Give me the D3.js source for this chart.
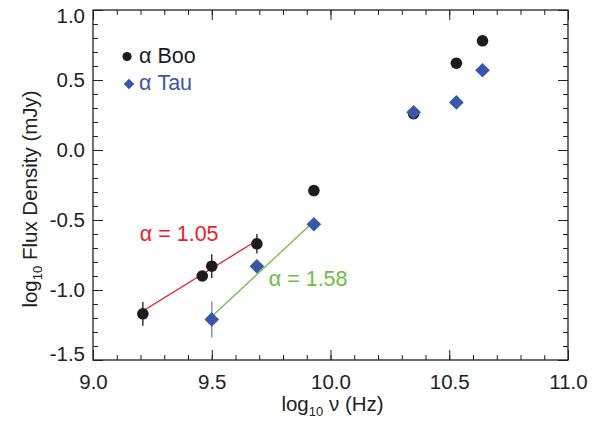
<!DOCTYPE html>
<html><head><meta charset="utf-8">
<script src="https://cdn.jsdelivr.net/npm/d3@7"></script>
<style>
html,body{margin:0;padding:0;background:#fff;}
svg{display:block;font-family:"Liberation Sans",Arial,Helvetica,sans-serif;}
</style></head>
<body>
<svg id="chart" width="611" height="422"></svg>
<script>
// ---- data ----
const booFreq = [9.21, 9.46, 9.50, 9.69, 9.93, 10.35, 10.53, 10.64];
const booFlux = [-1.17, -0.90, -0.83, -0.67, -0.29, 0.26, 0.62, 0.78];
const booErr  = [0.085, 0, 0.085, 0.07, 0, 0, 0, 0];
const tauFreq = [9.50, 9.69, 9.93, 10.35, 10.53, 10.64];
const tauFlux = [-1.21, -0.83, -0.53, 0.27, 0.34, 0.57];
const tauErr  = [0.13, 0, 0, 0, 0, 0];
const fitBooX = [9.21, 9.68];
const fitBooY = [-1.15, -0.657];
const fitTauX = [9.50, 9.915];
const fitTauY = [-1.19, -0.534];
const fitLabels = ["α = 1.05", "α = 1.58"];
const fitLabelPos = [[9.197, -0.65], [9.74, -0.97]];
const xTicks = [9.0, 9.5, 10.0, 10.5, 11.0];
const yTicks = [1.0, 0.5, 0.0, -0.5, -1.0, -1.5];
const legendNames = ["α Boo", "α Tau"];

// ---- layout ----
const svg = d3.select("#chart");
const L = 93, R = 568, T = 10, B = 360;
const x = d3.scaleLinear().domain([9.0, 11.0]).range([L, R]);
const y = d3.scaleLinear().domain([-1.5, 1.0]).range([B, T]);
const axisCol = "#222";
const cBlack = "#1c1c1c", cBlue = "#3a56a8", cBlueErr = "#8196cc", cRed = "#ec1c24", cGreen = "#6cbd45";

const minorX = d3.range(90, 111).map(v => v / 10);
const minorY = d3.range(-15, 11).map(v => v / 10);

function styleAxis(g) {
  g.select(".domain").remove();
  g.selectAll(".tick line").attr("stroke", axisCol).attr("stroke-width", 1);
}
// major ticks, labelled
svg.append("g").attr("transform", `translate(0,${B})`)
  .call(d3.axisBottom(x).tickValues(xTicks).tickSize(-10).tickPadding(14).tickFormat(d3.format(".1f")))
  .call(styleAxis)
  .call(g => g.selectAll("text").attr("font-size", 20.5).attr("fill", "#222").attr("font-family", "Liberation Sans, Arial, sans-serif"));
svg.append("g").attr("transform", `translate(0,${B})`)
  .call(d3.axisBottom(x).tickValues(minorX).tickSize(-5).tickFormat(""))
  .call(styleAxis);
svg.append("g").attr("transform", `translate(0,${T})`)
  .call(d3.axisTop(x).tickValues(xTicks).tickSize(-10).tickFormat(""))
  .call(styleAxis);
svg.append("g").attr("transform", `translate(0,${T})`)
  .call(d3.axisTop(x).tickValues(minorX).tickSize(-5).tickFormat(""))
  .call(styleAxis);
svg.append("g").attr("transform", `translate(${L},0)`)
  .call(d3.axisLeft(y).tickValues(yTicks).tickSize(-10).tickPadding(8).tickFormat(d => d3.format(".1f")(d).replace("−", "-")))
  .call(styleAxis)
  .call(g => g.selectAll("text").attr("font-size", 20.5).attr("fill", "#222").attr("font-family", "Liberation Sans, Arial, sans-serif"))
  .call(g => g.selectAll(".tick").filter(d => d === 1.0).select("text").attr("dy", "0.62em"))
  .call(g => g.selectAll(".tick").filter(d => d === -1.5).select("text").attr("dy", "0.0em"));
svg.append("g").attr("transform", `translate(${L},0)`)
  .call(d3.axisLeft(y).tickValues(minorY).tickSize(-5).tickFormat(""))
  .call(styleAxis);
svg.append("g").attr("transform", `translate(${R},0)`)
  .call(d3.axisRight(y).tickValues(yTicks).tickSize(-10).tickFormat(""))
  .call(styleAxis);
svg.append("g").attr("transform", `translate(${R},0)`)
  .call(d3.axisRight(y).tickValues(minorY).tickSize(-5).tickFormat(""))
  .call(styleAxis);

// frame
svg.append("rect").attr("x", L).attr("y", T).attr("width", R - L).attr("height", B - T)
  .attr("fill", "none").attr("stroke", axisCol).attr("stroke-width", 1.3);

// axis titles
const xt = svg.append("text").attr("x", (L + R) / 2 + 2).attr("y", 411).attr("text-anchor", "middle")
  .attr("font-size", 20.5).attr("fill", "#222");
xt.append("tspan").text("log");
xt.append("tspan").attr("font-size", 13).attr("dy", 5).text("10");
xt.append("tspan").attr("dy", -5).text(" ν (Hz)");

const yt = svg.append("text").attr("transform", "translate(37,199) rotate(-90)").attr("text-anchor", "middle")
  .attr("font-size", 20.5).attr("fill", "#222");
yt.append("tspan").text("log");
yt.append("tspan").attr("font-size", 13).attr("dy", 5).text("10");
yt.append("tspan").attr("dy", -5).text(" Flux Density (mJy)");

// fit lines
const line = d3.line().x(d => x(d[0])).y(d => y(d[1]));
svg.append("path").datum(d3.zip(fitBooX, fitBooY)).attr("d", line)
  .attr("stroke", cRed).attr("stroke-width", 1.3).attr("fill", "none");
svg.append("path").datum(d3.zip(fitTauX, fitTauY)).attr("d", line)
  .attr("stroke", cGreen).attr("stroke-width", 1.3).attr("fill", "none");

// error bars
const boo = booFreq.map((f, i) => ({f, v: booFlux[i], e: booErr[i]}));
const tau = tauFreq.map((f, i) => ({f, v: tauFlux[i], e: tauErr[i]}));
svg.append("g").selectAll("line").data(boo.filter(d => d.e > 0)).join("line")
  .attr("x1", d => x(d.f)).attr("x2", d => x(d.f))
  .attr("y1", d => y(d.v - d.e)).attr("y2", d => y(d.v + d.e))
  .attr("stroke", cBlack).attr("stroke-width", 1.3);
svg.append("g").selectAll("line").data(tau.filter(d => d.e > 0)).join("line")
  .attr("x1", d => x(d.f)).attr("x2", d => x(d.f))
  .attr("y1", d => y(d.v - d.e)).attr("y2", d => y(d.v + d.e))
  .attr("stroke", cBlueErr).attr("stroke-width", 1.5);

// markers
svg.append("g").selectAll("circle").data(boo).join("circle")
  .attr("cx", d => x(d.f)).attr("cy", d => y(d.v)).attr("r", 5.8).attr("fill", cBlack);
const dia = s => `M0,${-s}L${s},0L0,${s}L${-s},0Z`;
svg.append("g").selectAll("path").data(tau).join("path")
  .attr("transform", d => `translate(${x(d.f)},${y(d.v)})`).attr("d", dia(7.3)).attr("fill", cBlue);

// fit labels
svg.append("text").attr("x", x(fitLabelPos[0][0])).attr("y", y(fitLabelPos[0][1]))
  .attr("font-size", 21.5).attr("fill", cRed).text(fitLabels[0]);
svg.append("text").attr("x", x(fitLabelPos[1][0])).attr("y", y(fitLabelPos[1][1]))
  .attr("font-size", 21.5).attr("fill", cGreen).text(fitLabels[1]);

// legend
svg.append("circle").attr("cx", 127).attr("cy", 56.5).attr("r", 4.6).attr("fill", cBlack);
svg.append("text").attr("x", 139).attr("y", 63).attr("font-size", 21.5).attr("fill", cBlack).text(legendNames[0]);
svg.append("path").attr("transform", "translate(129,84)").attr("d", dia(5.3)).attr("fill", cBlue);
svg.append("text").attr("x", 139).attr("y", 90).attr("font-size", 21.5).attr("fill", cBlue).text(legendNames[1]);
</script>
</body></html>
